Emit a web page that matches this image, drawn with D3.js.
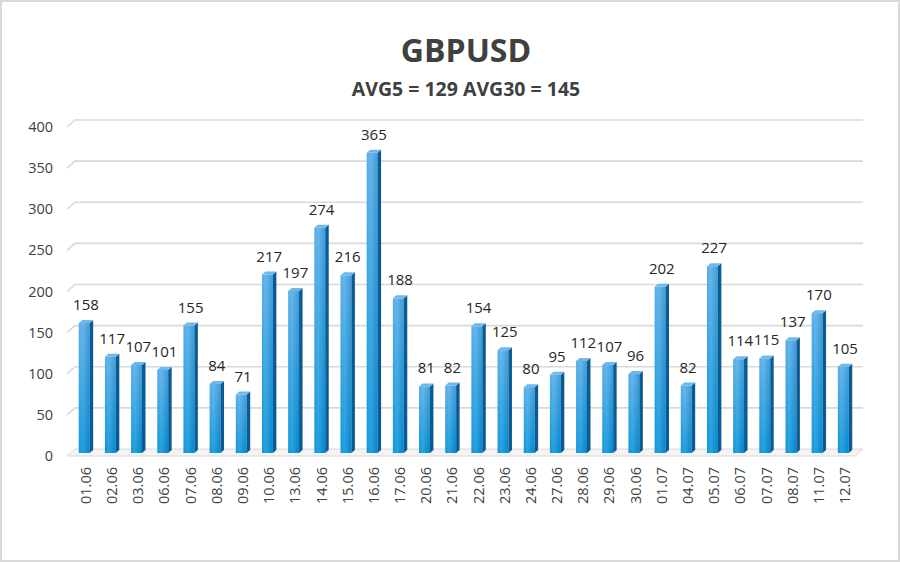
<!DOCTYPE html>
<html><head><meta charset="utf-8">
<script src="https://cdn.jsdelivr.net/npm/d3@7"></script>
<style>
html,body{margin:0;padding:0;background:#fff;}
svg{display:block;font-family:"Open Sans","Segoe UI",sans-serif;}
</style></head>
<body><svg id="c" width="900" height="562"></svg>
<script>
const categories = ["01.06","02.06","03.06","06.06","07.06","08.06","09.06","10.06","13.06","14.06","15.06","16.06","17.06","20.06","21.06","22.06","23.06","24.06","27.06","28.06","29.06","30.06","01.07","04.07","05.07","06.07","07.07","08.07","11.07","12.07"];
const values = [158,117,107,101,155,84,71,217,197,274,216,365,188,81,82,154,125,80,95,112,107,96,202,82,227,114,115,137,170,105];
const yTicks = [0,50,100,150,200,250,300,350,400];
const title = "GBPUSD";
const subtitle = "AVG5 = 129 AVG30 = 145";

const svg = d3.select("#c");
const W = 900, H = 562;
svg.append("rect").attr("x",1).attr("y",1).attr("width",W-2).attr("height",H-2)
  .attr("fill","#fff").attr("stroke","#d9d9d9").attr("stroke-width",2);

const x = d3.scaleBand().domain(categories).range([73, 858]).paddingInner(0.45).paddingOuter(0.22);
const y = d3.scaleLinear().domain([0,400]).range([456,127]);
const DX = 8, DY = 7;
const xL = 67, xR = 863;
const mid = 3; // bars sit mid-depth

// floor
svg.append("path")
  .attr("d", `M${xL},${y(0)} L${xL+DX},${y(0)-DY} L${xR},${y(0)-DY} L${xR-DX},${y(0)} Z`)
  .attr("fill","#f4f4f4").attr("stroke","#d9d9d9").attr("stroke-width",1);

// gridlines
svg.append("g").selectAll("path").data(yTicks.filter(d=>d>0)).join("path")
  .attr("d", d => `M${xL},${y(d)} L${xL+DX},${y(d)-DY} L${xR},${y(d)-DY}`)
  .attr("fill","none").attr("stroke","#d9d9d9").attr("stroke-width",1.6);

// y axis labels
svg.append("g").selectAll("text").data(yTicks).join("text")
  .attr("x", 53).attr("y", d => y(d)).attr("dy","0.35em")
  .attr("text-anchor","end").attr("font-size",14.5).attr("fill","#404040")
  .text(d => d);

// gradients
const defs = svg.append("defs");
const gf = defs.append("linearGradient").attr("id","gf").attr("x1",0).attr("x2",0).attr("y1",0).attr("y2",1);
gf.append("stop").attr("offset","0%").attr("stop-color","#4ea9e6");
gf.append("stop").attr("offset","100%").attr("stop-color","#0090d8");
const gh = defs.append("linearGradient").attr("id","gh").attr("x1",0).attr("x2",1).attr("y1",0).attr("y2",0);
gh.append("stop").attr("offset","0%").attr("stop-color","#ffffff").attr("stop-opacity",0.05);
gh.append("stop").attr("offset","35%").attr("stop-color","#ffffff").attr("stop-opacity",0.15);
gh.append("stop").attr("offset","100%").attr("stop-color","#004f8a").attr("stop-opacity",0.15);

const bw = x.bandwidth();
const sd = 3.5, sdy = 3;
const fw = bw - sd;
const bars = svg.append("g").selectAll("g").data(values).join("g");
// front
bars.append("rect")
  .attr("x",(d,i)=>x(categories[i])).attr("y",d=>y(d)-mid)
  .attr("width",fw).attr("height",d=>y(0)-y(d))
  .attr("fill","url(#gf)");
bars.append("rect")
  .attr("x",(d,i)=>x(categories[i])).attr("y",d=>y(d)-mid)
  .attr("width",fw).attr("height",d=>y(0)-y(d))
  .attr("fill","url(#gh)");
// side
bars.append("path")
  .attr("d",(d,i)=>{const x0=x(categories[i])+fw, yt=y(d)-mid, yb=y(0)-mid;
    return `M${x0},${yt} L${x0+sd},${yt-sdy} L${x0+sd},${yb-sdy} L${x0},${yb} Z`;})
  .attr("fill","#0b5b93");
// top
bars.append("path")
  .attr("d",(d,i)=>{const x0=x(categories[i]), x1=x0+fw, yt=y(d)-mid;
    return `M${x0},${yt} L${x0+sd},${yt-sdy} L${x1+sd},${yt-sdy} L${x1},${yt} Z`;})
  .attr("fill","#6fb9ea");

// value labels
svg.append("g").selectAll("text").data(values).join("text")
  .attr("x",(d,i)=>x(categories[i])+bw/2)
  .attr("y",d=>y(d)-mid-13)
  .attr("text-anchor","middle").attr("font-size",15).attr("fill","#262626")
  .text(d=>d);

// x labels
svg.append("g").selectAll("text").data(categories).join("text")
  .attr("transform",(d)=>`translate(${x(d)+bw/2+5},${467}) rotate(-90)`)
  .attr("text-anchor","end").attr("font-size",14.5).attr("fill","#404040")
  .text(d=>d);

// titles
svg.append("text").attr("x",466).attr("y",62).attr("text-anchor","middle")
  .attr("font-size",32).attr("font-weight","bold").attr("fill","#404040").text(title);
svg.append("text").attr("x",466).attr("y",96).attr("text-anchor","middle")
  .attr("font-size",19.5).attr("font-weight","bold").attr("fill","#404040").text(subtitle);
</script></body></html>
